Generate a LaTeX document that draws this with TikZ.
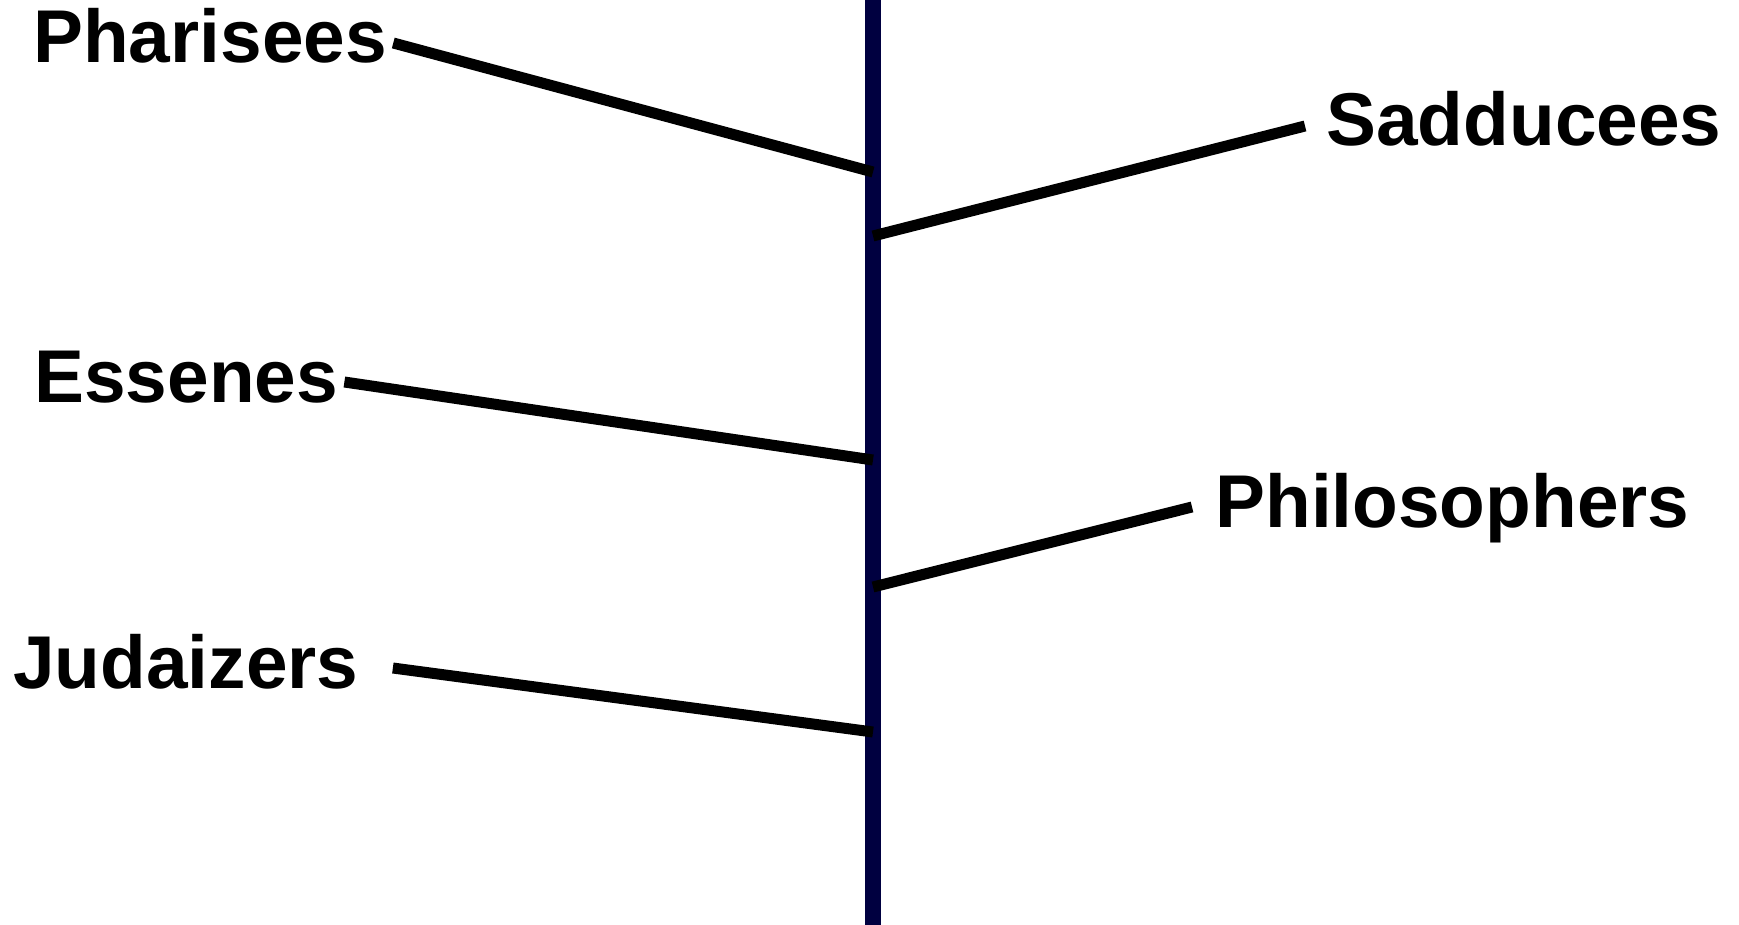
\documentclass[tikz,border=0pt]{standalone}
\usepackage{fontspec}
\setmainfont{Liberation Sans}
\usepackage{tikz}
\usetikzlibrary{positioning}
\definecolor{spinecolor}{RGB}{0, 0, 64}
\tikzstyle{group} = [inner sep=0pt, text height=20pt, text depth=0pt,
                     font=\fontsize{37.4}{44}\selectfont\bfseries]
\tikzstyle{spine} = [line width=7.8pt, draw=spinecolor]
\tikzstyle{branch} = [line width=5.5pt, black]

\begin{document}
\begin{tikzpicture}[x=0.5pt, y=-0.5pt]
    \useasboundingbox (0,0) rectangle (1739,925);
    % Spine
    \coordinate (top) at (873,0);
    \coordinate (bottom) at (873,925);
    \draw[spine] (top) -- (bottom);
    \coordinate (sp1) at (873,172);
    \coordinate (sp2) at (873,236);
    \coordinate (sp3) at (873,460);
    \coordinate (sp4) at (873,587);
    \coordinate (sp5) at (873,732);
    
    % Groups
    \node[group, anchor=base west] (pharisees) at (33,63) {Pharisees};
    \node[group, anchor=base west] (sadducees) at (1326,146) {Sadducees};
    \node[group, anchor=base west] (essenes) at (34,402) {Essenes};
    \node[group, anchor=base west] (philosophers) at (1215,527) {Philosophers};
    \node[group, anchor=base west] (judaizers) at (13,688) {Judaizers};
    
    % Branches
    \draw[branch] ([xshift=3pt]pharisees.east) -- (sp1);
    \draw[branch] (sp2) -- ([xshift=-10.5pt]sadducees.west);
    \draw[branch] ([xshift=3pt]essenes.east) -- (sp3);
    \draw[branch] (sp4) -- ([xshift=-11.5pt]philosophers.west);
    \draw[branch] ([xshift=17pt]judaizers.east) -- (sp5);
\end{tikzpicture}
\end{document}
